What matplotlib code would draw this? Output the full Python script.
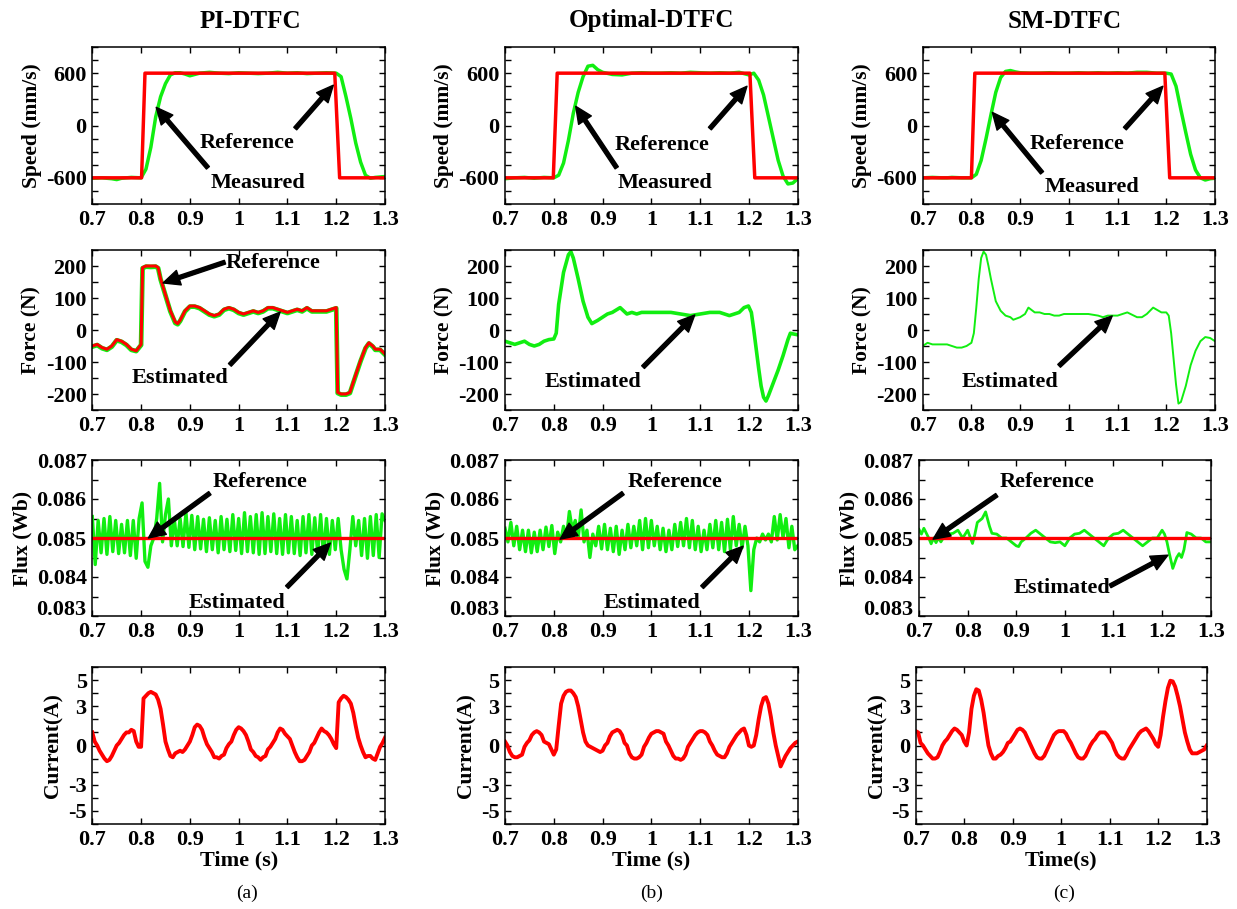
import numpy as np
import matplotlib
matplotlib.use('Agg')
import matplotlib.pyplot as plt
from matplotlib.transforms import ScaledTranslation

plt.rcParams['font.family'] = ['Liberation Serif', 'DejaVu Serif']
plt.rcParams['font.weight'] = 'bold'
plt.rcParams['axes.labelweight'] = 'bold'

RED = '#ff0000'
GREEN = '#11ee11'

#----------------------------------------------------------------------------------------
# data

titles = ['PI-DTFC', 'Optimal-DTFC', 'SM-DTFC']
panel_tags = ['(a)', '(b)', '(c)']
xlabels = ['Time (s)', 'Time (s)', 'Time(s)']

# speed (mm/s)
t_spd_ref_a = [0.70, 0.801, 0.808, 1.197, 1.207, 1.30]
t_spd_ref_b = [0.70, 0.799, 0.807, 1.202, 1.212, 1.30]
t_spd_ref_c = [0.70, 0.800, 0.807, 1.197, 1.207, 1.30]
spd_ref = [-600, -600, 600, 600, -600, -600]

t_spd = [0.70, 0.72, 0.74, 0.75, 0.76, 0.78, 0.80, 0.81, 0.82, 0.83, 0.84, 0.85, 0.86, 0.87,
         0.88, 0.89, 0.90, 0.92, 0.94, 0.96, 0.98, 1.00, 1.02, 1.04, 1.06, 1.08, 1.10, 1.12,
         1.14, 1.16, 1.18, 1.20, 1.21, 1.22, 1.23, 1.24, 1.25, 1.26, 1.27, 1.28, 1.29, 1.30]
spd_meas_a = [-605, -600, -610, -620, -605, -595, -600, -500, -250, 100, 330, 480, 580, 605,
              605, 590, 570, 600, 610, 600, 595, 605, 600, 595, 600, 610, 600, 605,
              595, 600, 605, 600, 560, 330, 80, -200, -420, -570, -605, -595, -590, -585]
spd_meas_b = [-610, -600, -595, -600, -605, -595, -600, -570, -430, -170, 140, 380, 560, 680,
              690, 640, 610, 585, 580, 600, 605, 600, 600, 605, 600, 610, 605, 600,
              605, 600, 610, 580, 600, 520, 350, 100, -150, -400, -580, -670, -660, -610]
spd_meas_c = [-600, -595, -600, -600, -595, -600, -600, -560, -400, -150, 120, 380, 550, 620,
              630, 615, 605, 600, 600, 605, 600, 600, 605, 600, 605, 600, 605, 600,
              610, 610, 600, 600, 590, 450, 180, -80, -330, -510, -600, -625, -610, -605]

# force (N)
t_frc_a = [0.70, 0.71, 0.72, 0.73, 0.74, 0.75, 0.76, 0.77, 0.78, 0.79,
           0.80, 0.803, 0.81, 0.82, 0.83, 0.835, 0.84, 0.85, 0.86, 0.87,
           0.875, 0.88, 0.89, 0.90, 0.91, 0.92, 0.93, 0.94, 0.95, 0.96,
           0.97, 0.98, 0.99, 1.00, 1.01, 1.02, 1.03, 1.04, 1.05, 1.06,
           1.07, 1.08, 1.09, 1.10, 1.11, 1.12, 1.13, 1.14, 1.15, 1.16,
           1.17, 1.18, 1.19, 1.20, 1.203, 1.21, 1.22, 1.228, 1.24, 1.25,
           1.26, 1.267, 1.275, 1.28, 1.29, 1.30]
frc_ref_a = [-50, -45, -55, -60, -50, -30, -35, -45, -60, -65,
             -45, 195, 200, 200, 200, 195, 160, 110, 60, 25,
             20, 30, 60, 75, 75, 70, 60, 50, 45, 50,
             65, 70, 65, 55, 50, 55, 60, 55, 60, 70,
             70, 65, 60, 55, 60, 65, 60, 70, 60, 60,
             60, 60, 65, 70, -195, -200, -200, -195, -140, -95,
             -55, -40, -50, -60, -60, -75]
frc_est_a = [-52, -47, -57, -62, -52, -32, -37, -47, -62, -66,
             -47, 193, 198, 197, 198, 193, 158, 108, 58, 22,
             18, 28, 58, 73, 73, 68, 58, 48, 43, 48,
             63, 68, 63, 53, 48, 53, 58, 53, 58, 68,
             68, 63, 58, 53, 58, 63, 58, 68, 58, 58,
             58, 58, 63, 68, -197, -202, -202, -197, -142, -97,
             -57, -42, -52, -62, -62, -77]

t_frc_b = [0.70, 0.71, 0.72, 0.73, 0.74, 0.75, 0.76, 0.77, 0.78, 0.79,
           0.80, 0.805, 0.81, 0.82, 0.83, 0.835, 0.84, 0.85, 0.86, 0.87,
           0.878, 0.89, 0.90, 0.91, 0.92, 0.936, 0.95, 0.96, 0.97, 0.98,
           0.99, 1.00, 1.02, 1.04, 1.06, 1.08, 1.10, 1.12, 1.14, 1.16,
           1.17, 1.18, 1.19, 1.199, 1.205, 1.21, 1.215, 1.22, 1.225, 1.23,
           1.235, 1.24, 1.25, 1.26, 1.27, 1.28, 1.285, 1.29, 1.30]
frc_est_b = [-35, -40, -45, -40, -35, -45, -50, -45, -35, -30,
             -28, -10, 80, 180, 235, 245, 225, 160, 90, 40,
             20, 30, 40, 50, 55, 70, 50, 55, 50, 55,
             55, 55, 55, 55, 50, 45, 50, 55, 55, 45,
             50, 55, 70, 75, 55, 0, -60, -120, -175, -210,
             -222, -205, -165, -125, -80, -30, -10, -12, -15]

t_frc_c = [0.70, 0.71, 0.72, 0.73, 0.74, 0.75, 0.76, 0.77, 0.78, 0.79,
           0.80, 0.805, 0.81, 0.815, 0.82, 0.825, 0.83, 0.835, 0.84, 0.85,
           0.86, 0.87, 0.88, 0.886, 0.90, 0.91, 0.917, 0.93, 0.94, 0.95,
           0.96, 0.97, 0.98, 0.99, 1.00, 1.02, 1.04, 1.06, 1.07, 1.08,
           1.10, 1.12, 1.14, 1.15, 1.16, 1.173, 1.19, 1.20, 1.205, 1.21,
           1.215, 1.22, 1.225, 1.23, 1.24, 1.25, 1.26, 1.27, 1.28, 1.29,
           1.30]
frc_est_c = [-50, -40, -45, -45, -45, -45, -50, -55, -55, -50,
             -40, -10, 70, 160, 225, 245, 235, 200, 160, 90,
             60, 45, 40, 32, 40, 50, 70, 55, 55, 50,
             50, 45, 45, 50, 50, 50, 50, 45, 40, 45,
             45, 55, 40, 40, 50, 70, 55, 55, 45, -10,
             -90, -170, -230, -225, -175, -110, -65, -35, -22, -25,
             -35]

# flux (Wb), a and b sampled every 6 ms
t_flx_fast = np.linspace(0.70, 1.30, 101)
flx_est_a = [0.08555, 0.08432, 0.08545, 0.08462, 0.08550, 0.08458, 0.08555, 0.08465, 0.08545, 0.08460,
             0.08535, 0.08462, 0.08545, 0.08455, 0.08545, 0.08448, 0.08550, 0.08590, 0.08440, 0.08425,
             0.08480, 0.08500, 0.08550, 0.08640, 0.08490, 0.08560, 0.08600, 0.08480, 0.08550, 0.08480,
             0.08550, 0.08478, 0.08565, 0.08476, 0.08558, 0.08470, 0.08555, 0.08472, 0.08548, 0.08465,
             0.08552, 0.08470, 0.08545, 0.08462, 0.08555, 0.08470, 0.08548, 0.08465, 0.08560, 0.08468,
             0.08550, 0.08460, 0.08565, 0.08465, 0.08555, 0.08462, 0.08560, 0.08458, 0.08565, 0.08460,
             0.08555, 0.08465, 0.08562, 0.08460, 0.08550, 0.08458, 0.08560, 0.08462, 0.08555, 0.08460,
             0.08545, 0.08455, 0.08555, 0.08462, 0.08560, 0.08458, 0.08552, 0.08460, 0.08560, 0.08455,
             0.08550, 0.08458, 0.08545, 0.08470, 0.08550, 0.08470, 0.08420, 0.08395, 0.08470, 0.08555,
             0.08480, 0.08545, 0.08455, 0.08550, 0.08448, 0.08555, 0.08455, 0.08560, 0.08450, 0.08562,
             0.08545]
flx_est_b = [0.08525, 0.08490, 0.08540, 0.08480, 0.08530, 0.08470, 0.08520, 0.08465, 0.08520, 0.08462,
             0.08515, 0.08465, 0.08520, 0.08470, 0.08528, 0.08478, 0.08532, 0.08460, 0.08515, 0.08490,
             0.08530, 0.08500, 0.08568, 0.08520, 0.08545, 0.08500, 0.08572, 0.08490, 0.08520, 0.08450,
             0.08510, 0.08480, 0.08530, 0.08472, 0.08535, 0.08470, 0.08525, 0.08465, 0.08530, 0.08458,
             0.08520, 0.08470, 0.08535, 0.08475, 0.08530, 0.08480, 0.08545, 0.08470, 0.08550, 0.08475,
             0.08545, 0.08480, 0.08530, 0.08470, 0.08525, 0.08465, 0.08520, 0.08470, 0.08535, 0.08478,
             0.08540, 0.08480, 0.08550, 0.08475, 0.08545, 0.08470, 0.08530, 0.08465, 0.08520, 0.08470,
             0.08535, 0.08475, 0.08545, 0.08470, 0.08540, 0.08465, 0.08548, 0.08470, 0.08555, 0.08480,
             0.08535, 0.08475, 0.08530, 0.08480, 0.08365, 0.08470, 0.08500, 0.08490, 0.08510, 0.08495,
             0.08510, 0.08490, 0.08555, 0.08495, 0.08560, 0.08500, 0.08550, 0.08475, 0.08530, 0.08470,
             0.08480]
t_flx_c = [0.70, 0.705, 0.71, 0.72, 0.725, 0.73, 0.735, 0.74, 0.745, 0.75,
           0.76, 0.77, 0.78, 0.79, 0.80, 0.81, 0.815, 0.82, 0.83, 0.837,
           0.845, 0.85, 0.86, 0.87, 0.88, 0.89, 0.90, 0.905, 0.91, 0.92,
           0.93, 0.94, 0.95, 0.96, 0.97, 0.98, 0.99, 1.00, 1.01, 1.02,
           1.03, 1.04, 1.05, 1.06, 1.07, 1.08, 1.09, 1.10, 1.11, 1.12,
           1.13, 1.14, 1.15, 1.16, 1.17, 1.18, 1.19, 1.20, 1.205, 1.21,
           1.215, 1.222, 1.23, 1.235, 1.24, 1.245, 1.251, 1.26, 1.27, 1.28,
           1.29, 1.30]
flx_est_c = [0.08522, 0.08510, 0.08525, 0.08500, 0.08485, 0.08500, 0.08488, 0.08500, 0.08490, 0.08500,
             0.08510, 0.08512, 0.08520, 0.08500, 0.08520, 0.08486, 0.08510, 0.08540, 0.08550, 0.08567,
             0.08530, 0.08512, 0.08510, 0.08500, 0.08500, 0.08490, 0.08480, 0.08478, 0.08490, 0.08500,
             0.08512, 0.08520, 0.08510, 0.08500, 0.08490, 0.08488, 0.08490, 0.08480, 0.08500, 0.08510,
             0.08512, 0.08520, 0.08510, 0.08500, 0.08490, 0.08480, 0.08500, 0.08510, 0.08512, 0.08520,
             0.08510, 0.08500, 0.08490, 0.08480, 0.08490, 0.08500, 0.08500, 0.08520, 0.08510, 0.08490,
             0.08460, 0.08422, 0.08450, 0.08460, 0.08450, 0.08470, 0.08514, 0.08510, 0.08500, 0.08500,
             0.08490, 0.08490]
t_flx_ref = [0.70, 1.30]
flx_ref = [0.085, 0.085]

# current (A), sampled every 5 ms
t_cur = np.linspace(0.70, 1.30, 121)
cur_a = [1.0, 0.3, 0.0, -0.4, -0.7, -1.0, -1.2, -1.1, -0.8, -0.4,
         0.0, 0.2, 0.5, 0.8, 1.0, 1.0, 1.2, 1.1, 0.3, -0.1,
         -0.1, 3.6, 3.8, 4.0, 4.1, 4.0, 3.9, 3.5, 2.8, 1.6,
         0.3, -0.3, -0.8, -0.9, -0.6, -0.5, -0.4, -0.5, -0.3, 0.0,
         0.3, 0.8, 1.4, 1.6, 1.5, 1.2, 0.6, 0.1, -0.2, -0.5,
         -0.9, -0.9, -1.0, -0.8, -0.7, -0.2, 0.1, 0.3, 0.8, 1.2,
         1.4, 1.3, 1.1, 0.8, 0.3, -0.3, -0.5, -0.8, -0.9, -1.1,
         -0.9, -0.8, -0.3, -0.1, 0.2, 0.5, 1.0, 1.3, 1.2, 0.9,
         0.7, 0.5, 0.0, -0.5, -0.9, -1.2, -1.2, -1.1, -0.8, -0.5,
         0.0, 0.2, 0.6, 1.0, 1.3, 1.1, 1.0, 0.8, 0.5, 0.1,
         -0.2, 3.3, 3.6, 3.8, 3.7, 3.5, 3.2, 2.5, 1.5, 0.6,
         0.0, -0.5, -0.9, -0.8, -0.8, -1.0, -1.1, -0.6, -0.1, 0.2,
         0.6]
cur_b = [0.3, 0.0, -0.5, -0.8, -0.9, -0.9, -0.8, -0.7, -0.1, 0.2,
         0.4, 0.8, 1.0, 1.1, 1.0, 0.8, 0.3, 0.2, 0.1, -0.3,
         -0.7, -0.3, 1.5, 3.2, 3.8, 4.1, 4.2, 4.2, 4.0, 3.7,
         3.0, 2.0, 1.0, 0.3, 0.0, -0.1, -0.2, -0.3, -0.4, -0.5,
         -0.4, 0.0, 0.2, 0.7, 1.0, 1.1, 1.2, 1.1, 0.8, 0.2,
         0.0, -0.6, -0.9, -1.0, -1.0, -0.9, -0.7, -0.1, 0.2, 0.6,
         0.9, 1.0, 1.1, 1.1, 1.0, 0.9, 0.3, 0.0, -0.4, -0.8,
         -1.0, -1.0, -1.1, -1.0, -0.7, -0.1, 0.2, 0.5, 0.8, 1.0,
         1.1, 1.1, 1.0, 0.8, 0.3, 0.0, -0.4, -0.7, -0.8, -0.9,
         -0.9, -0.6, -0.1, 0.2, 0.5, 0.8, 1.0, 1.2, 1.3, 0.8,
         0.0, -0.1, 0.0, 0.8, 2.0, 3.0, 3.6, 3.7, 3.2, 2.2,
         1.0, 0.0, -0.8, -1.6, -1.2, -0.8, -0.5, -0.2, 0.0, 0.2,
         0.3]
cur_c = [1.1, 1.0, 0.2, 0.0, -0.3, -0.6, -0.8, -1.0, -1.0, -0.9,
         -0.5, 0.0, 0.3, 0.5, 0.8, 1.1, 1.3, 1.2, 1.0, 0.8,
         0.3, 0.0, 1.0, 2.8, 3.8, 4.3, 4.2, 3.5, 2.5, 1.2,
         0.0, -0.6, -1.0, -1.0, -0.8, -0.7, -0.5, -0.2, 0.2, 0.3,
         0.6, 0.9, 1.2, 1.3, 1.2, 1.0, 0.6, 0.2, -0.2, -0.6,
         -0.9, -1.0, -1.0, -0.8, -0.4, 0.0, 0.4, 0.8, 1.0, 1.1,
         1.1, 1.1, 0.9, 0.5, 0.2, -0.2, -0.6, -0.9, -1.0, -1.0,
         -0.8, -0.4, 0.0, 0.3, 0.5, 0.8, 1.0, 1.0, 1.0, 0.8,
         0.5, 0.2, -0.3, -0.7, -0.9, -1.0, -1.0, -0.7, -0.3, 0.0,
         0.3, 0.6, 0.9, 1.1, 1.2, 1.3, 1.1, 0.8, 0.5, 0.1,
         -0.1, 0.8, 2.2, 3.4, 4.4, 4.95, 4.9, 4.5, 3.8, 3.0,
         2.0, 1.0, 0.3, -0.3, -0.6, -0.6, -0.6, -0.5, -0.4, -0.3,
         0.0]

#----------------------------------------------------------------------------------------
# layout (pixels of a 1237 x 909 canvas)
W, H = 1237, 909
rows_px = [(47, 204), (250, 410), (460, 616), (667, 824)]
cols_px = [[(92.3, 385), (92.3, 385), (92.3, 385), (92.3, 385)],
           [(505, 797.7), (505, 797.7), (505, 797.7), (505, 797.7)],
           [(922.7, 1215), (922.7, 1215), (919, 1210.7), (915.7, 1206.7)]]
title_x = [250, 652, 1065]
tag_x = [247, 652, 1064]

fig = plt.figure(figsize=(W / 100, H / 100), dpi=100)

def make_ax(col, row):
    x0, x1 = cols_px[col][row]
    y0, y1 = rows_px[row]
    ax = fig.add_axes([x0 / W, 1 - y1 / H, (x1 - x0) / W, (y1 - y0) / H])
    ax.set_xlim(0.7, 1.3)
    ax.set_xticks([0.7, 0.8, 0.9, 1.0, 1.1, 1.2, 1.3])
    ax.set_xticklabels(['0.7', '0.8', '0.9', '1', '1.1', '1.2', '1.3'])
    ax.tick_params(direction='in', top=True, right=True, length=4, width=1,
                   labelsize=16, pad=4)
    for s in ax.spines.values():
        s.set_linewidth(1.1)
    return ax

def set_y(ax, lo, hi, step, labeled, fmt, label):
    ax.set_ylim(lo, hi)
    ticks = np.arange(lo, hi + step / 2, step)
    ax.set_yticks(ticks)
    ax.set_yticklabels([fmt(v) if any(abs(v - l) < step / 10 for l in labeled) else '' for v in ticks])
    ax.set_ylabel(label, fontsize=15.5, labelpad=3)

arrow_kw = dict(facecolor='black', edgecolor='black', width=2.8, headwidth=11, headlength=12, shrink=0)

def note(ax, txt, txt_xy, tail, tip):
    ax.text(txt_xy[0], txt_xy[1], txt, fontsize=16, ha='center', va='center')
    ax.annotate('', xy=tip, xytext=tail, arrowprops=arrow_kw)

spd_meas = [spd_meas_a, spd_meas_b, spd_meas_c]
t_spd_ref = [t_spd_ref_a, t_spd_ref_b, t_spd_ref_c]
spd_notes = [((1.017, -196), (1.116, -35), (1.194, 462), (1.040, -658), (0.937, -485), (0.831, 208)),
             ((1.022, -219), (1.120, -35), (1.196, 450), (1.028, -658), (0.929, -485), (0.845, 220)),
             ((1.017, -208), (1.115, -35), (1.193, 450), (1.048, -704), (0.945, -542), (0.843, 150))]

for c in range(3):
    # speed
    ax = make_ax(c, 0)
    ax.plot(t_spd, spd_meas[c], color=GREEN, lw=2.5)
    ax.plot(t_spd_ref[c], spd_ref, color=RED, lw=2.5)
    set_y(ax, -900, 900, 150, [-600, 0, 600], lambda v: '%d' % v, 'Speed (mm/s)')
    n = spd_notes[c]
    note(ax, 'Reference', n[0], n[1], n[2])
    note(ax, 'Measured', n[3], n[4], n[5])

    # force
    ax = make_ax(c, 1)
    if c == 0:
        ax.plot(t_frc_a, frc_est_a, color=GREEN, lw=3.4)
        ax.plot(t_frc_a, frc_ref_a, color=RED, lw=2.2)
        note(ax, 'Reference', (1.070, 209), (0.972, 212), (0.845, 147))
        note(ax, 'Estimated', (0.880, -150), (0.982, -109), (1.085, 56))
    elif c == 1:
        ax.plot(t_frc_b, frc_est_b, color=GREEN, lw=2.6)
        note(ax, 'Estimated', (0.880, -162), (0.983, -116), (1.089, 47))
    else:
        ax.plot(t_frc_c, frc_est_c, color=GREEN, lw=1.4)
        note(ax, 'Estimated', (0.879, -162), (0.980, -112), (1.089, 44))
    set_y(ax, -250, 250, 50, [-200, -100, 0, 100, 200], lambda v: '%d' % v, 'Force (N)')

    # flux
    ax = make_ax(c, 2)
    if c == 0:
        ax.plot(t_flx_fast, flx_est_a, color=GREEN, lw=2.4)
        note(ax, 'Reference', (1.044, 0.08644), (0.941, 0.08615), (0.815, 0.08500))
        note(ax, 'Estimated', (0.996, 0.08333), (1.099, 0.08374), (1.188, 0.08487))
    elif c == 1:
        ax.plot(t_flx_fast, flx_est_b, color=GREEN, lw=2.4)
        note(ax, 'Reference', (1.048, 0.08644), (0.942, 0.08615), (0.813, 0.08497))
        note(ax, 'Estimated', (1.001, 0.08333), (1.104, 0.08374), (1.188, 0.08479))
    else:
        ax.plot(t_flx_c, flx_est_c, color=GREEN, lw=2.0)
        note(ax, 'Reference', (0.963, 0.08644), (0.860, 0.08610), (0.729, 0.08497))
        note(ax, 'Estimated', (0.994, 0.08372), (1.093, 0.08377), (1.212, 0.08456))
    ax.plot(t_flx_ref, flx_ref, color=RED, lw=2.4)
    set_y(ax, 0.083, 0.087, 0.0005, [0.083, 0.084, 0.085, 0.086, 0.087],
          lambda v: '%.3f' % v, 'Flux (Wb)')
    # lift the bottom flux label a little so it clears the 0.7 below it
    lowest = ax.get_yticklabels()[0]
    lowest.set_transform(lowest.get_transform() + ScaledTranslation(0, 6 / 72, fig.dpi_scale_trans))

    # current
    ax = make_ax(c, 3)
    ax.plot(t_cur, [cur_a, cur_b, cur_c][c], color=RED, lw=2.8)
    set_y(ax, -6, 6, 1, [-5, -3, 0, 3, 5], lambda v: '%d' % v, 'Current(A)')
    ax.set_xlabel(xlabels[c], fontsize=16, labelpad=1)

    # column title and tag
    fig.text(title_x[c] / W, 1 - 21 / H, titles[c], fontsize=18, ha='center', va='center')
    fig.text(tag_x[c] / W, 1 - 893 / H, panel_tags[c], fontsize=14, fontweight='normal',
             ha='center', va='center')

plt.savefig('out.png', dpi=100)
